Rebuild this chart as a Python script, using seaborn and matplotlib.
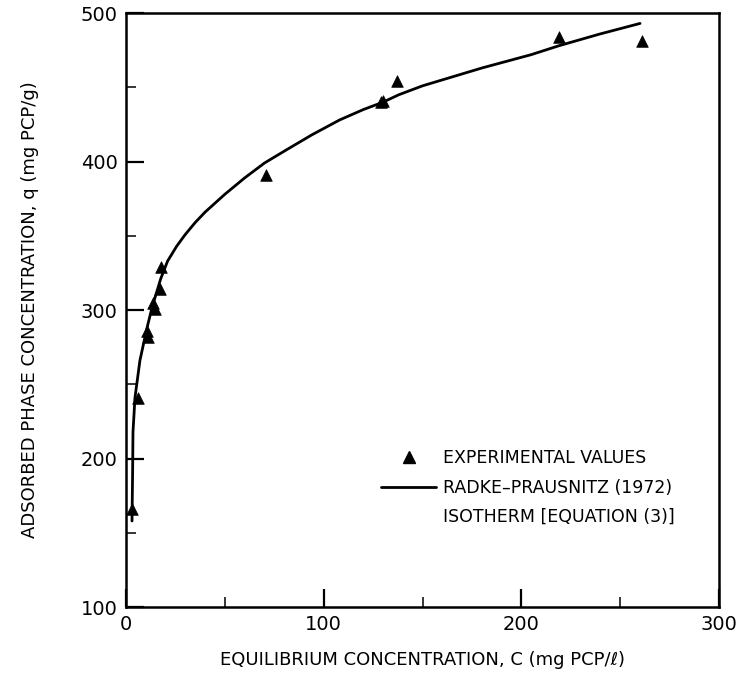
import matplotlib
matplotlib.use("Agg")
import matplotlib.pyplot as plt
from matplotlib.lines import Line2D
from matplotlib.ticker import MultipleLocator
import seaborn as sns
import pandas as pd

exp_c = [3, 6, 10.5, 11, 13.5, 14.5, 17, 17.5, 71, 129, 130, 137, 219, 261]
exp_q = [166, 241, 286, 282, 305, 301, 314, 329, 391, 440, 441, 454, 484, 481]

# Radke-Prausnitz isotherm curve
fit_c = [3, 3.3, 3.5, 4.5, 5.4, 7, 10.4, 13, 15, 17.5, 21, 25.6, 30, 35, 40, 50, 60,
         70, 80, 94, 108, 120, 130, 138, 150, 160, 180, 205, 219, 240, 260]
fit_q = [158, 190, 218, 241, 250, 266, 287, 301, 310, 321, 333, 343, 351, 359, 366,
         378, 389, 399, 407, 418, 428, 435, 440, 445, 451, 455, 463, 472, 478, 486, 493]

x_ticks = [0, 100, 200, 300]
y_ticks = [100, 200, 300, 400, 500]

exp_df = pd.DataFrame({"C": exp_c, "q": exp_q})
fit_df = pd.DataFrame({"C": fit_c, "q": fit_q})

sns.set_theme(style="white")
plt.rcParams["font.family"] = ["DejaVu Sans"]
plt.rcParams["text.color"] = "black"
plt.rcParams["axes.labelcolor"] = "black"

fig = plt.figure(figsize=(7.46, 6.86), dpi=100)
ax = fig.add_axes([0.169, 0.115, 0.795, 0.866])

sns.lineplot(data=fit_df, x="C", y="q", ax=ax, color="black", linewidth=2.0,
             sort=False, estimator=None)
sns.scatterplot(data=exp_df, x="C", y="q", ax=ax, marker="^", color="black",
                s=70, edgecolor="black", linewidth=0.5, zorder=3)

ax.set_xlim(0, 300)
ax.set_ylim(100, 500)
ax.set_xticks(x_ticks)
ax.set_yticks(y_ticks)
ax.xaxis.set_minor_locator(MultipleLocator(50))
ax.yaxis.set_minor_locator(MultipleLocator(50))
ax.tick_params(axis="both", which="major", direction="in", length=13, width=1.6,
               labelsize=14, colors="black", pad=6)
ax.tick_params(axis="both", which="minor", direction="in", length=7, width=1.3)
ax.tick_params(top=False, right=False, which="both")
ax.tick_params(bottom=True, left=True, which="both")

for sp in ax.spines.values():
    sp.set_linewidth(1.8)
    sp.set_color("black")

ax.set_xlabel("EQUILIBRIUM CONCENTRATION, C (mg PCP/\u2113)", fontsize=13,
              labelpad=12, color="black")
ax.set_ylabel("ADSORBED PHASE CONCENTRATION, q (mg PCP/g)", fontsize=13,
              labelpad=30, color="black")

handles = [
    Line2D([], [], marker="^", color="black", linestyle="none", markersize=8),
    Line2D([], [], color="black", linewidth=2.0),
    Line2D([], [], color="none"),
]
labels = ["EXPERIMENTAL VALUES", "RADKE\u2013PRAUSNITZ (1972)", "ISOTHERM [EQUATION (3)]"]
leg = ax.legend(handles, labels, loc="lower left", bbox_to_anchor=(0.418, 0.125),
                frameon=False, fontsize=12.5, handlelength=3.2, handletextpad=0.4,
                labelspacing=0.65, borderaxespad=0)
for t in leg.get_texts():
    t.set_color("black")

fig.savefig("out.png", dpi=100)
